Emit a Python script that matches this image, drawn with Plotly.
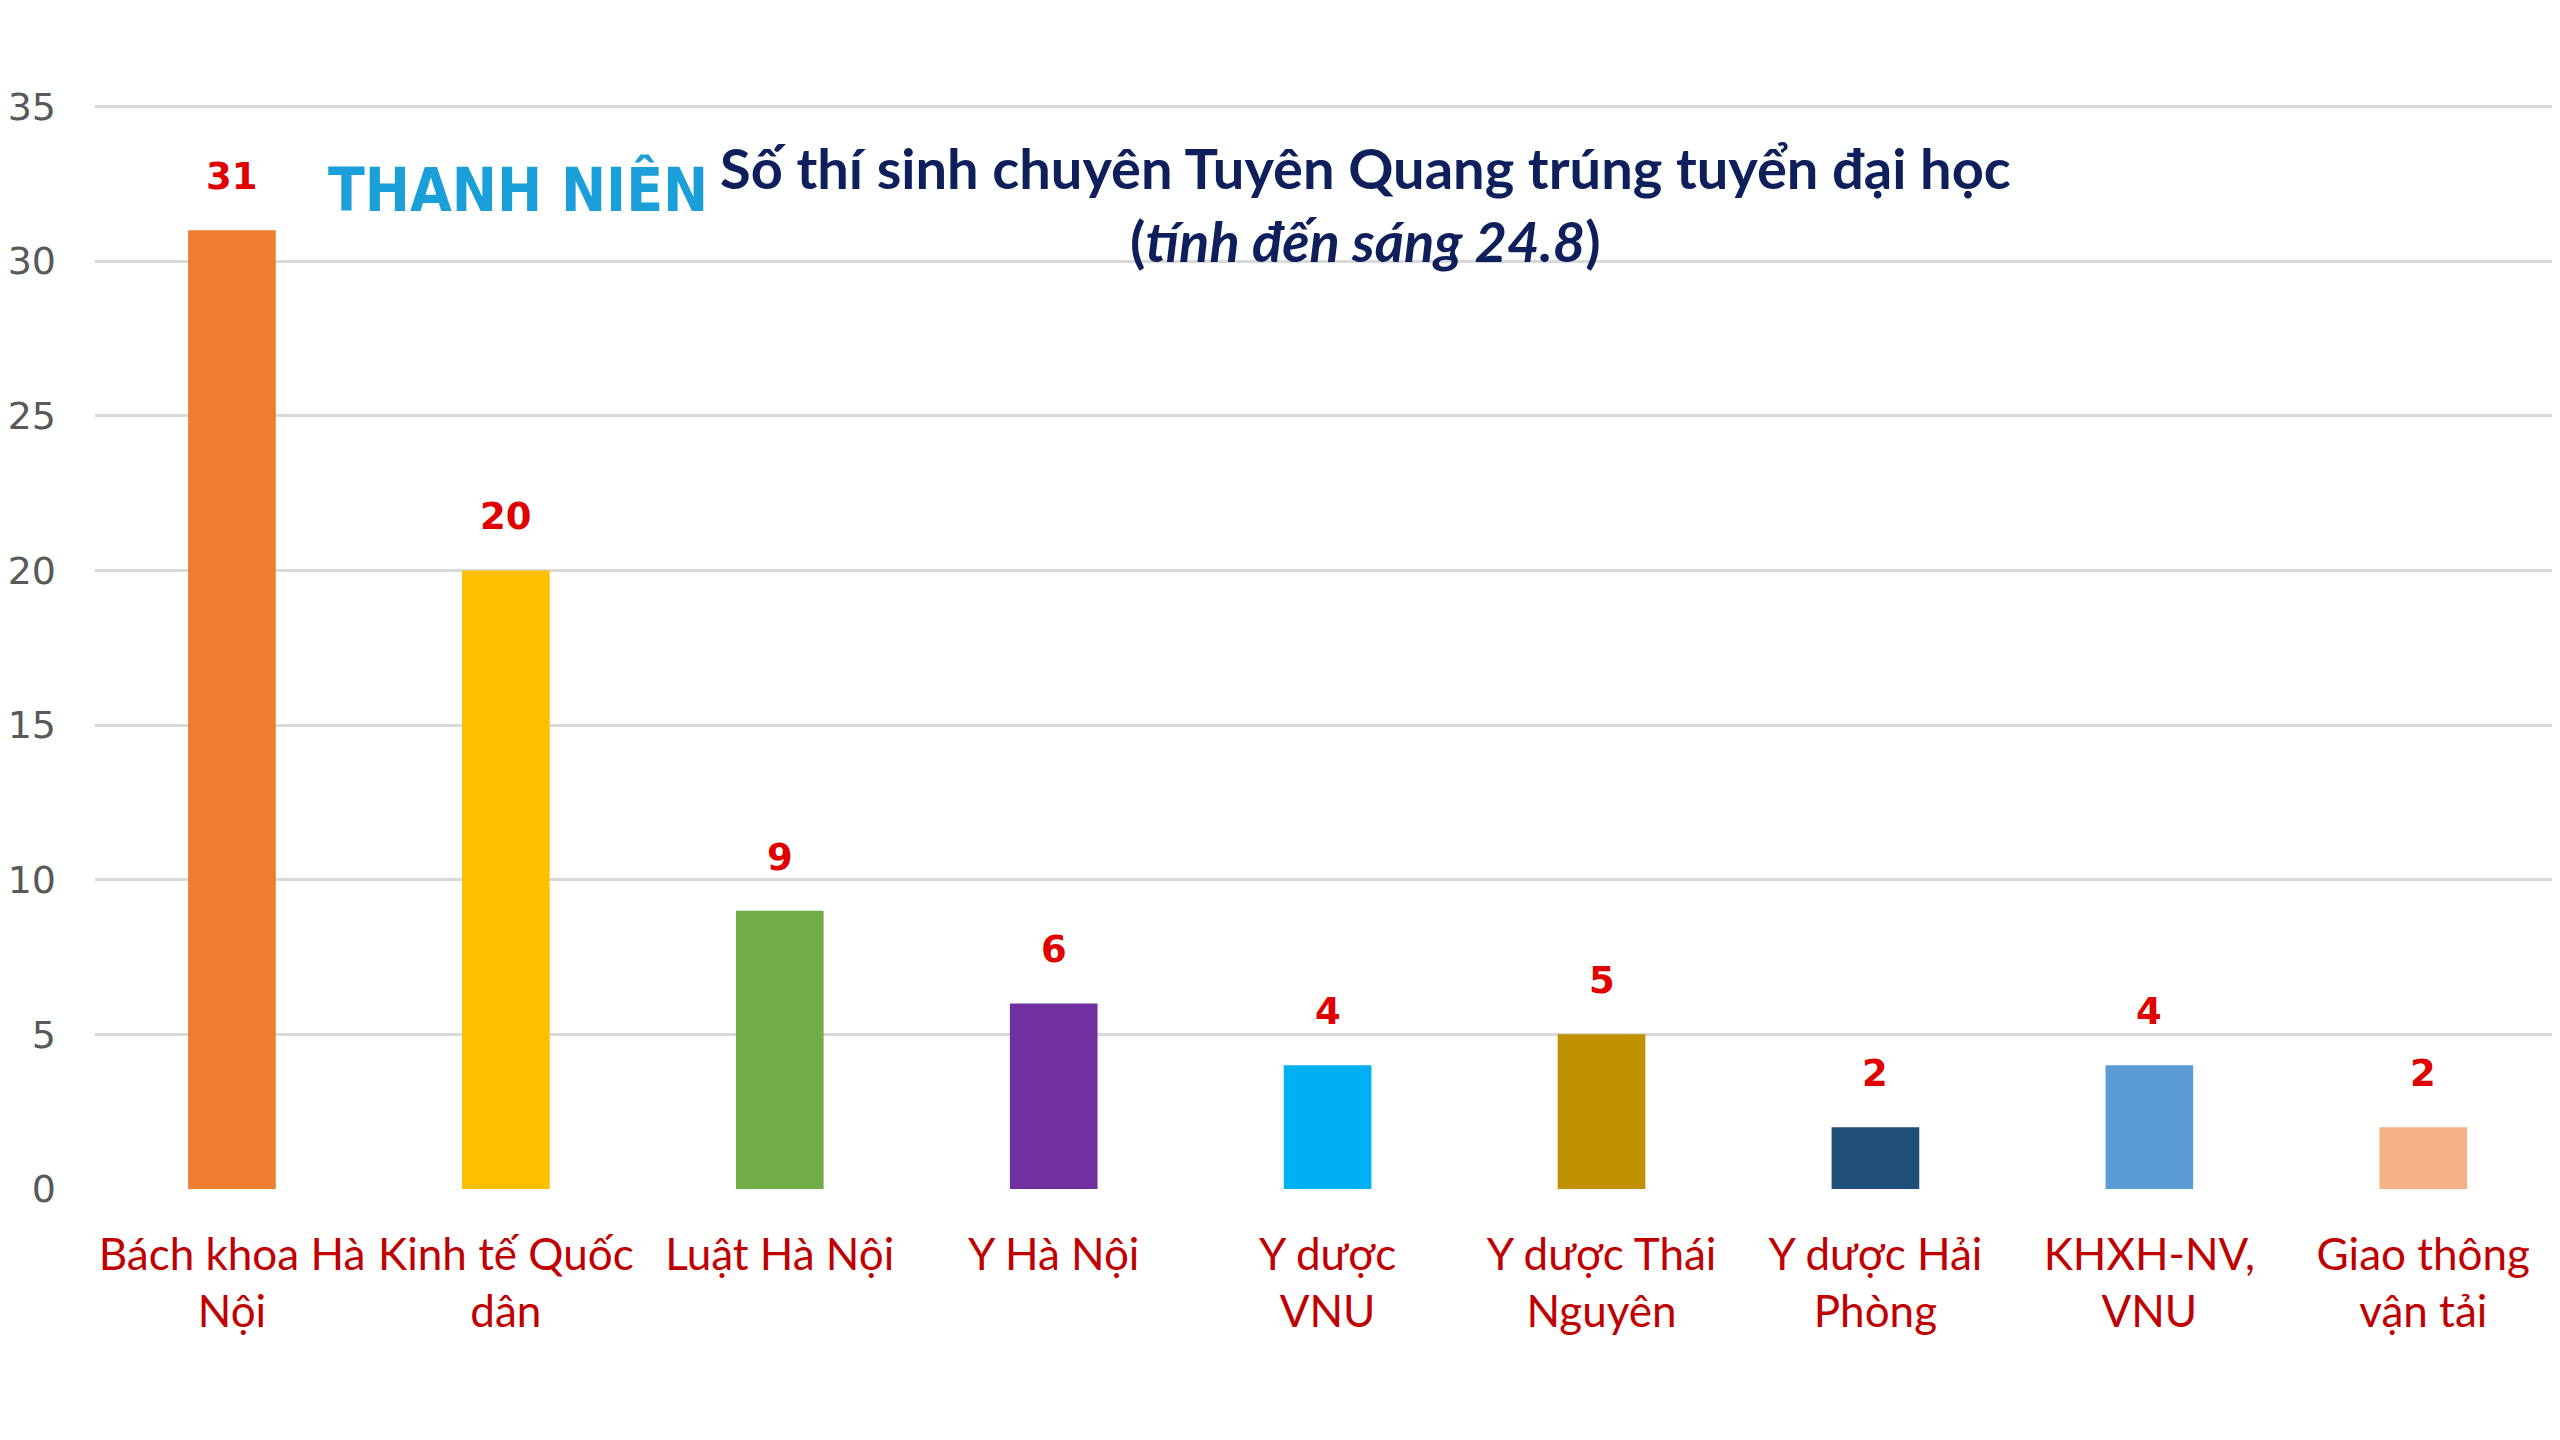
import plotly.graph_objects as go

categories = ["Bách khoa Hà<br>Nội", "Kinh tế Quốc<br>dân", "Luật Hà Nội", "Y Hà Nội",
              "Y dược<br>VNU", "Y dược Thái<br>Nguyên", "Y dược Hải<br>Phòng",
              "KHXH-NV,<br>VNU", "Giao thông<br>vận tải"]
values = [31, 20, 9, 6, 4, 5, 2, 4, 2]
colors = ["#ED7D31", "#FFC000", "#70AD47", "#7030A0", "#00B0F0",
          "#BF9000", "#1F4E79", "#5B9BD5", "#F4B183"]
y_ticks = [0, 5, 10, 15, 20, 25, 30, 35]

fig = go.Figure()
fig.add_trace(go.Bar(x=categories, y=values, marker=dict(color=colors, line=dict(width=0)),
                     width=0.32, hoverinfo="skip"))

for c, v in zip(categories, values):
    fig.add_annotation(x=c, y=v, text=f"<b>{v}</b>", showarrow=False, xref="x", yref="y",
                       yanchor="bottom", yshift=30,
                       font=dict(family="DejaVu Sans", size=37, color="#E00000"))

fig.add_annotation(xref="paper", yref="paper", x=0.517, y=0.908, yanchor="middle", xanchor="center",
                   text="<b>Số thí sinh chuyên Tuyên Quang trúng tuyển đại học</b><br><b>(<i>tính đến sáng 24.8</i>)</b>",
                   showarrow=False, align="center",
                   font=dict(family="Lato", size=56, color="#0F1F5C"))
fig.add_annotation(xref="paper", yref="paper", x=0.172, y=0.921, xanchor="center", yanchor="middle",
                   text="<b>THANH NIÊN</b>", showarrow=False,
                   font=dict(family="DejaVu Sans Condensed", size=60, color="#1A9FD8"))

fig.update_layout(
    width=2544, height=1424,
    margin=dict(l=87, r=0, t=96, b=243),
    paper_bgcolor="white", plot_bgcolor="white",
    showlegend=False,
    bargap=0.68,
    xaxis=dict(showgrid=False, showline=False, ticks="", ticklabelstandoff=36,
               tickfont=dict(family="Lato", size=44, color="#C00000"),
               range=[-0.5, 8.47], automargin=False),
    yaxis=dict(range=[0, 35.08], tickvals=y_ticks, showgrid=True, gridcolor="#D9D9D9", gridwidth=3,
               zeroline=False, showline=False, ticks="", ticklabelstandoff=38, automargin=False,
               tickfont=dict(family="DejaVu Sans", size=38, color="#595959")),
)
fig.write_html("out.html")
